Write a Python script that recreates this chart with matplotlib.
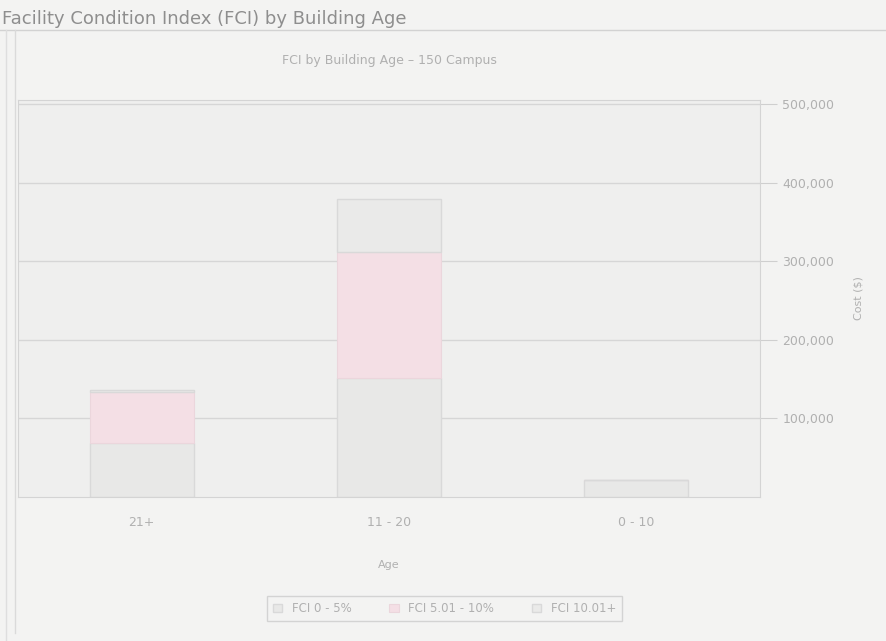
import matplotlib.pyplot as plt
import numpy as np

# FCI by building age, stacked cost segments
ages = ['21+', '11 - 20', '0 - 10']
fci_low = [69000, 152000, 22000]     # FCI 0 - 5%
fci_mid = [65000, 160000, 0]         # FCI 5.01 - 10%
fci_high = [2000, 67000, 0]          # FCI 10.01+
yticks = [100000, 200000, 300000, 400000, 500000]

paper = '#f3f3f2'
txt = '#b0b0b0'

fig = plt.figure(figsize=(8.87, 6.41), dpi=100, facecolor=paper)
ax = fig.add_axes([18/887, 1-497/641, (760-18)/887, (497-100)/641])
ax.set_facecolor('#efefee')

x = np.arange(len(ages))
w = 0.42
ax.bar(x, fci_low, w, color='#e8e8e7', edgecolor='#d9d9d9', lw=1, label='FCI 0 - 5%')
ax.bar(x, fci_mid, w, bottom=fci_low, color='#f4dfe5', edgecolor='#ebd6dc', lw=0.8,
       label='FCI 5.01 - 10%')
ax.bar(x, fci_high, w, bottom=np.add(fci_low, fci_mid), color='#eaeae9',
       edgecolor='#d9d9d9', lw=1, label='FCI 10.01+')

ax.set_xlim(-0.5, 2.5)
ax.set_ylim(0, 505000)
ax.set_xticks(x)
ax.set_xticklabels(ages, color=txt, fontsize=9)
ax.yaxis.tick_right()
ax.yaxis.set_label_position('right')
ax.set_yticks(yticks)
ax.set_yticklabels([f'{v:,}' for v in yticks], color=txt, fontsize=9)
ax.tick_params(axis='y', length=12, color='#cfcfcf', pad=4)
ax.tick_params(axis='x', length=0, pad=14)
ax.grid(axis='y', color='#d6d6d6', lw=1)
ax.set_axisbelow(True)
for s in ax.spines.values():
    s.set_color('#d4d4d4')

ax.set_xlabel('Age', color=txt, fontsize=8, labelpad=22)
ax.set_ylabel('Cost ($)', color=txt, fontsize=8, labelpad=14)
ax.set_title('FCI by Building Age \u2013 150 Campus', color=txt, fontsize=9, pad=26)

leg = ax.legend(loc='upper center', bbox_to_anchor=(0.575, -0.235), ncol=3,
                fontsize=8.5, frameon=True, fancybox=False, edgecolor='#cccccc',
                facecolor=paper, handlelength=0.8, columnspacing=3.2,
                borderpad=0.5)
for t in leg.get_texts():
    t.set_color(txt)

fig.text(0.002, 0.985, 'Facility Condition Index (FCI) by Building Age',
         color='#8e8e8e', fontsize=13, va='top', ha='left')
fig.add_artist(plt.Line2D([0, 1], [1-30/641, 1-30/641], color='#d2d2d2', lw=1))
fig.add_artist(plt.Line2D([6/887, 6/887], [0, 1-30/641], color='#dedede', lw=1))
fig.add_artist(plt.Line2D([15/887, 15/887], [8/641, 1-30/641], color='#dadada', lw=1))

fig.savefig('out.png', dpi=100, facecolor=paper)
